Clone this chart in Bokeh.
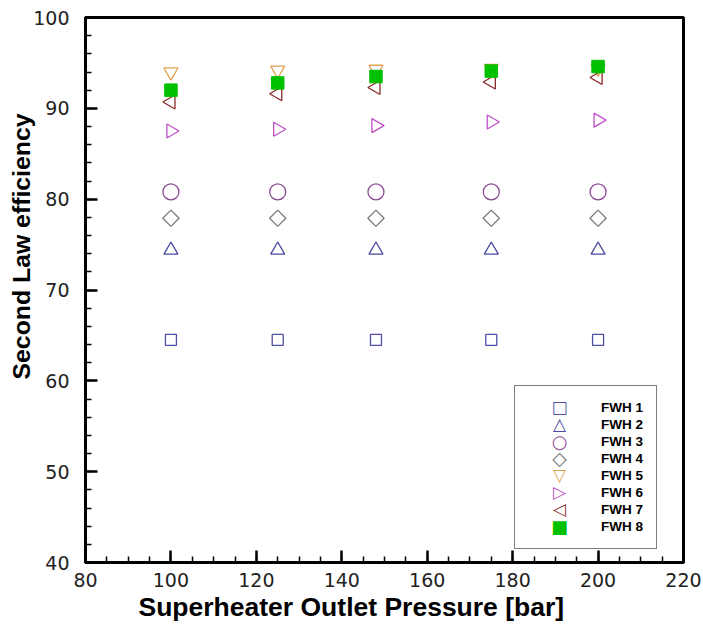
import numpy as np
from bokeh.plotting import figure
from bokeh.models import Range1d, SingleIntervalTicker, Legend, LegendItem, Label, Title
from bokeh.embed import file_html
from bokeh.resources import INLINE

# ---- data ----
pressure = [100, 125, 148, 175, 200]
fwh1 = [64.5, 64.5, 64.5, 64.5, 64.5]
fwh2 = [74.4, 74.4, 74.4, 74.4, 74.4]
fwh3 = [80.8, 80.8, 80.8, 80.8, 80.8]
fwh4 = [77.9, 77.9, 77.9, 77.9, 77.9]
fwh5 = [94.0, 94.2, 94.3, 94.4, 94.4]
fwh6 = [87.5, 87.7, 88.1, 88.5, 88.7]
fwh7 = [90.7, 91.6, 92.3, 92.9, 93.4]
fwh8 = [92.0, 92.8, 93.5, 94.1, 94.6]
series_labels = ["FWH 1", "FWH 2", "FWH 3", "FWH 4", "FWH 5", "FWH 6", "FWH 7", "FWH 8"]
legend_symbols = ["\u25a1", "\u25b3", "\u25cb", "\u25c7", "\u25bd", "\u25b7", "\u25c1", "\u25a0"]
x_title = "Superheater Outlet Pressure [bar]"
y_title = "Second Law efficiency"

colors = ["#5050a8", "#4848a0", "#8c4a96", "#7a7a7a", "#e0a050", "#c050c8", "#8b2a2a", "#00c000"]
symbol_sizes = ["17px", "17px", "18px", "19px", "17px", "17px", "17px", "18px"]

p = figure(width=703, height=631, output_backend="svg", toolbar_location=None,
           x_range=Range1d(80, 220), y_range=Range1d(40, 100),
           min_border_left=85, min_border_right=20, min_border_top=17, min_border_bottom=69)
p.background_fill_color = "white"
p.border_fill_color = "white"
p.xgrid.visible = False
p.ygrid.visible = False
p.outline_line_color = "black"
p.outline_line_width = 3
p.outline_line_alpha = 1

p.xaxis.ticker = SingleIntervalTicker(interval=20, num_minor_ticks=4)
p.yaxis.ticker = SingleIntervalTicker(interval=10, num_minor_ticks=5)
for ax in (p.xaxis[0], p.yaxis[0]):
    ax.axis_line_width = 3
    ax.axis_line_color = "black"
    ax.major_tick_in = 12
    ax.major_tick_out = 0
    ax.minor_tick_in = 6
    ax.minor_tick_out = 0
    ax.major_tick_line_width = 2.5
    ax.minor_tick_line_width = 1.5
    ax.major_tick_line_color = "black"
    ax.minor_tick_line_color = "black"
    ax.major_label_text_font = "DejaVu Sans"
    ax.major_label_text_font_size = "19px"
    ax.major_label_text_color = "#222222"
p.xaxis.major_label_standoff = 10
p.yaxis.major_label_standoff = 16

# axis titles
p.add_layout(Title(text=x_title, align="left", offset=53, vertical_align="top", standoff=5,
                   text_font="Liberation Sans", text_font_style="bold",
                   text_font_size="26.5px", text_color="black"), "below")
p.add_layout(Title(text=y_title, align="right", offset=96, standoff=-8,
                   text_font="Liberation Sans", text_font_style="bold",
                   text_font_size="24.8px", text_color="black"), "left")

r1 = p.scatter(pressure, fwh1, marker="square", size=11, fill_color=None,
               line_color=colors[0], line_width=1.3)
r2 = p.scatter(pressure, fwh2, marker="triangle", size=14, fill_color=None,
               line_color=colors[1], line_width=1.3)
r3 = p.scatter(pressure, fwh3, marker="circle", size=16, fill_color=None,
               line_color=colors[2], line_width=1.3)
r4 = p.scatter(pressure, fwh4, marker="square", angle=np.pi / 4, size=11.5, fill_color=None,
               line_color=colors[3], line_width=1.3)
r5 = p.scatter(pressure, fwh5, marker="inverted_triangle", size=14, fill_color=None,
               line_color=colors[4], line_width=1.3)
r6 = p.scatter(pressure, fwh6, marker="triangle", angle=-np.pi / 2, size=14, fill_color=None,
               line_color=colors[5], line_width=1.3)
r7 = p.scatter(pressure, fwh7, marker="triangle", angle=np.pi / 2, size=14, fill_color=None,
               line_color=colors[6], line_width=1.3)
r8 = p.scatter(pressure, fwh8, marker="square", size=12.5, fill_color=colors[7],
               line_color=colors[7], line_width=1)

# legend: Bokeh draws markers too small at this row pitch, so the legend
# rows carry an invisible glyph and the symbols are drawn as text underneath
ghost = p.scatter(pressure, fwh4, marker="square", size=1, fill_alpha=0, line_alpha=0)
items = [LegendItem(label=lab, renderers=[ghost]) for lab in series_labels]
legend = Legend(items=items, location=(429, 13))
legend.border_line_color = "black"
legend.border_line_width = 1.5
legend.background_fill_alpha = 0
legend.label_text_font = "Liberation Sans"
legend.label_text_font_style = "bold"
legend.label_text_font_size = "13.5px"
legend.label_text_color = "black"
legend.glyph_width = 64
legend.glyph_height = 17
legend.label_height = 17
legend.label_width = 42
legend.spacing = 0
legend.padding = 13
legend.label_standoff = 9
legend.margin = 0
p.add_layout(legend, "center")

first_row = 15 + 162 - 13 - 8.5  # centre of first legend symbol, px above frame bottom
for i, sym in enumerate(legend_symbols):
    p.add_layout(Label(x=474, y=first_row - 17 * i, x_units="screen", y_units="screen",
                       text=sym, text_align="center", text_baseline="middle",
                       text_font="DejaVu Sans", text_font_size=symbol_sizes[i],
                       text_color=colors[i]))

open("out.html", "w").write(file_html(p, INLINE))
